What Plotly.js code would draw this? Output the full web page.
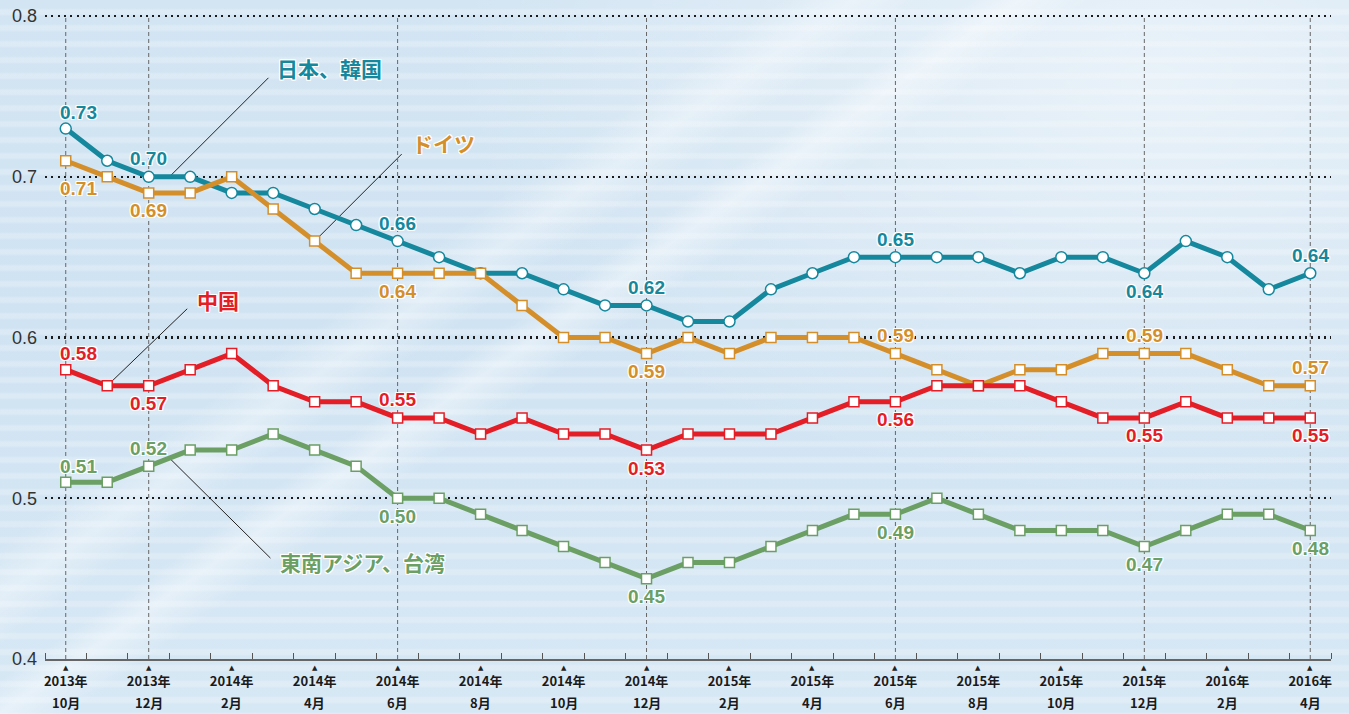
<!DOCTYPE html>
<html>
<head>
<meta charset="utf-8">
<script src="https://cdn.plot.ly/plotly-3.0.1.min.js"></script>
<style>
html,body{margin:0;padding:0;}
#chart{
  width:1349px;height:714px;
  background:
    radial-gradient(ellipse 700px 420px at 1150px 80px, rgba(255,255,255,0.5), rgba(255,255,255,0) 100%),
    linear-gradient(145deg, rgba(255,255,255,0) 0%, rgba(255,255,255,0) 33%, rgba(255,255,255,0.35) 36%, rgba(255,255,255,0) 39%, rgba(255,255,255,0) 41%, rgba(255,255,255,0.4) 43%, rgba(255,255,255,0) 46%, rgba(255,255,255,0) 100%),
    repeating-linear-gradient(180deg, rgba(255,255,255,0) 0px, rgba(255,255,255,0) 8px, rgba(255,255,255,0.22) 10px, rgba(255,255,255,0.22) 14px, rgba(255,255,255,0) 16px),
    linear-gradient(180deg, #d3e5f3 0%, #d0e3f2 45%, #d7e8f5 100%);
}
</style>
</head>
<body>
<div id="chart"></div>
<script>
// ---- data ----
const months = [
  '2013年10月','2013年11月','2013年12月',
  '2014年1月','2014年2月','2014年3月','2014年4月','2014年5月','2014年6月',
  '2014年7月','2014年8月','2014年9月','2014年10月','2014年11月','2014年12月',
  '2015年1月','2015年2月','2015年3月','2015年4月','2015年5月','2015年6月',
  '2015年7月','2015年8月','2015年9月','2015年10月','2015年11月','2015年12月',
  '2016年1月','2016年2月','2016年3月','2016年4月'
];
const japanKorea = [0.73,0.71,0.70,0.70,0.69,0.69,0.68,0.67,0.66,0.65,0.64,0.64,0.63,0.62,0.62,
                    0.61,0.61,0.63,0.64,0.65,0.65,0.65,0.65,0.64,0.65,0.65,0.64,0.66,0.65,0.63,0.64];
const germany    = [0.71,0.70,0.69,0.69,0.70,0.68,0.66,0.64,0.64,0.64,0.64,0.62,0.60,0.60,0.59,
                    0.60,0.59,0.60,0.60,0.60,0.59,0.58,0.57,0.58,0.58,0.59,0.59,0.59,0.58,0.57,0.57];
const china      = [0.58,0.57,0.57,0.58,0.59,0.57,0.56,0.56,0.55,0.55,0.54,0.55,0.54,0.54,0.53,
                    0.54,0.54,0.54,0.55,0.56,0.56,0.57,0.57,0.57,0.56,0.55,0.55,0.56,0.55,0.55,0.55];
const seAsiaTaiwan = [0.51,0.51,0.52,0.53,0.53,0.54,0.53,0.52,0.50,0.50,0.49,0.48,0.47,0.46,0.45,
                    0.46,0.46,0.47,0.48,0.49,0.49,0.50,0.49,0.48,0.48,0.48,0.47,0.48,0.49,0.49,0.48];
const seriesNames = ['日本、韓国','ドイツ','中国','東南アジア、台湾'];
const labeledMonths = ['2013年10月','2013年12月','2014年6月','2014年12月','2015年6月','2015年12月','2016年4月'];
const yTicks = [0.4,0.5,0.6,0.7,0.8];

// ---- styling ----
const colors = ['#15889d','#d48f2b','#e41e26','#6b9f64'];
const symbols = ['circle','square','square','square'];
// label side for each labeled month: 1 above, -1 below
const labelSide = [
  [1,1,1,1,1,-1,1],
  [-1,-1,-1,-1,1,1,1],
  [1,-1,1,-1,-1,-1,-1],
  [1,1,-1,-1,-1,-1,-1]
];

const xIdx = months.map((m,i)=>i);
const allSeries = [japanKorea, germany, china, seAsiaTaiwan];
const F = 'Liberation Sans, Arial, sans-serif';
const CJK = 'Noto Sans CJK JP, sans-serif';
const TF = 'Liberation Sans Narrow, ' + CJK;
const halo = '1px 1px 0 #fff, -1px -1px 0 #fff, 1px -1px 0 #fff, -1px 1px 0 #fff, 0 1px 0 #fff, 0 -1px 0 #fff, 1px 0 0 #fff, -1px 0 0 #fff';

const traces = allSeries.map((vals,s)=>({
  type:'scatter', mode:'lines+markers', x:xIdx, y:vals, name:seriesNames[s],
  line:{color:colors[s], width:5},
  marker:{symbol:symbols[s], size: s===0 ? 11 : 10, color:'#ffffff', line:{color:colors[s], width:1.5}},
  cliponaxis:false, hoverinfo:'x+y'
}));

const annotations = [];
allSeries.forEach((vals,s)=>{
  labeledMonths.forEach((m,k)=>{
    const i = months.indexOf(m);
    const side = labelSide[s][k];
    let ys = side*18, xs = 0;
    if (i===0){ xs = 13; ys = side>0 ? 16 : -28; }
    annotations.push({
      x:i, y:vals[i], xref:'x', yref:'y', text:vals[i].toFixed(2), showarrow:false,
      xshift:xs, yshift:ys,
      font:{family:F, size:19, color:colors[s], weight:'bold', shadow:halo}
    });
  });
});

// x-axis: triangles and month line under each labeled tick
const tickIdx = xIdx.filter(i=>i%2===0);
tickIdx.forEach(i=>{
  annotations.push({x:i, y:0, xref:'x', yref:'paper', yanchor:'top', text:'▲', showarrow:false,
    yshift:-3, font:{family:'DejaVu Sans', size:7, color:'#222'}});
  const m = months[i];
  annotations.push({x:i, y:0, xref:'x', yref:'paper', yanchor:'top', showarrow:false,
    text:m.slice(m.indexOf('年')+1), yshift:-33, borderpad:0,
    font:{family:TF, size:13, color:'#1a1a1a', weight:'bold'}});
});

// series name labels with leader lines
const leaderAnchors = [
  {x:2.5, y:(japanKorea[2]+japanKorea[3])/2, dx:99, dy:99, tx:106, ty:109},
  {x:6, y:germany[6], dx:87, dy:87, tx:95, ty:98},
  {x:1, y:china[1], dx:80, dy:77, tx:88, ty:86},
  {x:2.5, y:(seAsiaTaiwan[2]+seAsiaTaiwan[3])/2, dx:101, dy:-100, tx:109, ty:-104}
];
const shapes = [];
leaderAnchors.forEach((a,s)=>{
  shapes.push({type:'line', xref:'x', yref:'y', xsizemode:'pixel', ysizemode:'pixel',
    xanchor:a.x, yanchor:a.y, x0:0, y0:0, x1:a.dx, y1:a.dy,
    line:{color:'#222', width:1}, layer:'below'});
  annotations.push({x:a.x, y:a.y, xref:'x', yref:'y', xanchor:'left', yanchor:'middle',
    xshift:a.tx, yshift:a.ty, text:seriesNames[s], showarrow:false,
    font:{family:CJK, size:21, color:colors[s], weight:'bold', shadow:halo}});
});

// vertical dashed guide lines
labeledMonths.forEach(m=>{
  const i = months.indexOf(m);
  shapes.push({type:'line', xref:'x', yref:'y', x0:i, x1:i, y0:yTicks[0], y1:yTicks[yTicks.length-1],
    line:{color:'#666', width:1, dash:'4px,3px'}, layer:'below'});
});

const yearText = tickIdx.map(i=>{
  const m = months[i];
  return m.slice(0, m.indexOf('年')+1);
});

const layout = {
  width:1349, height:714,
  margin:{l:45, r:18, t:14, b:55},
  paper_bgcolor:'rgba(0,0,0,0)', plot_bgcolor:'rgba(0,0,0,0)',
  showlegend:false,
  xaxis:{
    range:[-0.5,30.5], tickmode:'array', tickvals:tickIdx, ticktext:yearText,
    ticks:'', showgrid:false, zeroline:false, showline:true, linecolor:'#666', linewidth:1.5,
    ticklabelstandoff:10,
    tickfont:{family:TF, size:13, color:'#1a1a1a', weight:'bold'},
    minor:{tickmode:'array', tickvals:months.map((m,i)=>i-0.5).concat([months.length-0.5]),
      ticks:'inside', ticklen:6, tickwidth:1, tickcolor:'#555', showgrid:false}
  },
  yaxis:{
    range:[0.4,0.8013], tickmode:'array', tickvals:yTicks, ticktext:yTicks.map(v=>v.toFixed(1)),
    showgrid:true, gridcolor:'#1a1a1a', gridwidth:2.2, griddash:'2px,4.3px',
    zeroline:false, showline:false, ticks:'', ticklabelstandoff:7,
    tickfont:{family:F, size:18, color:'#333'}
  },
  annotations, shapes
};

Plotly.newPlot('chart', traces, layout, {displayModeBar:false, staticPlot:true});
</script>
</body>
</html>
